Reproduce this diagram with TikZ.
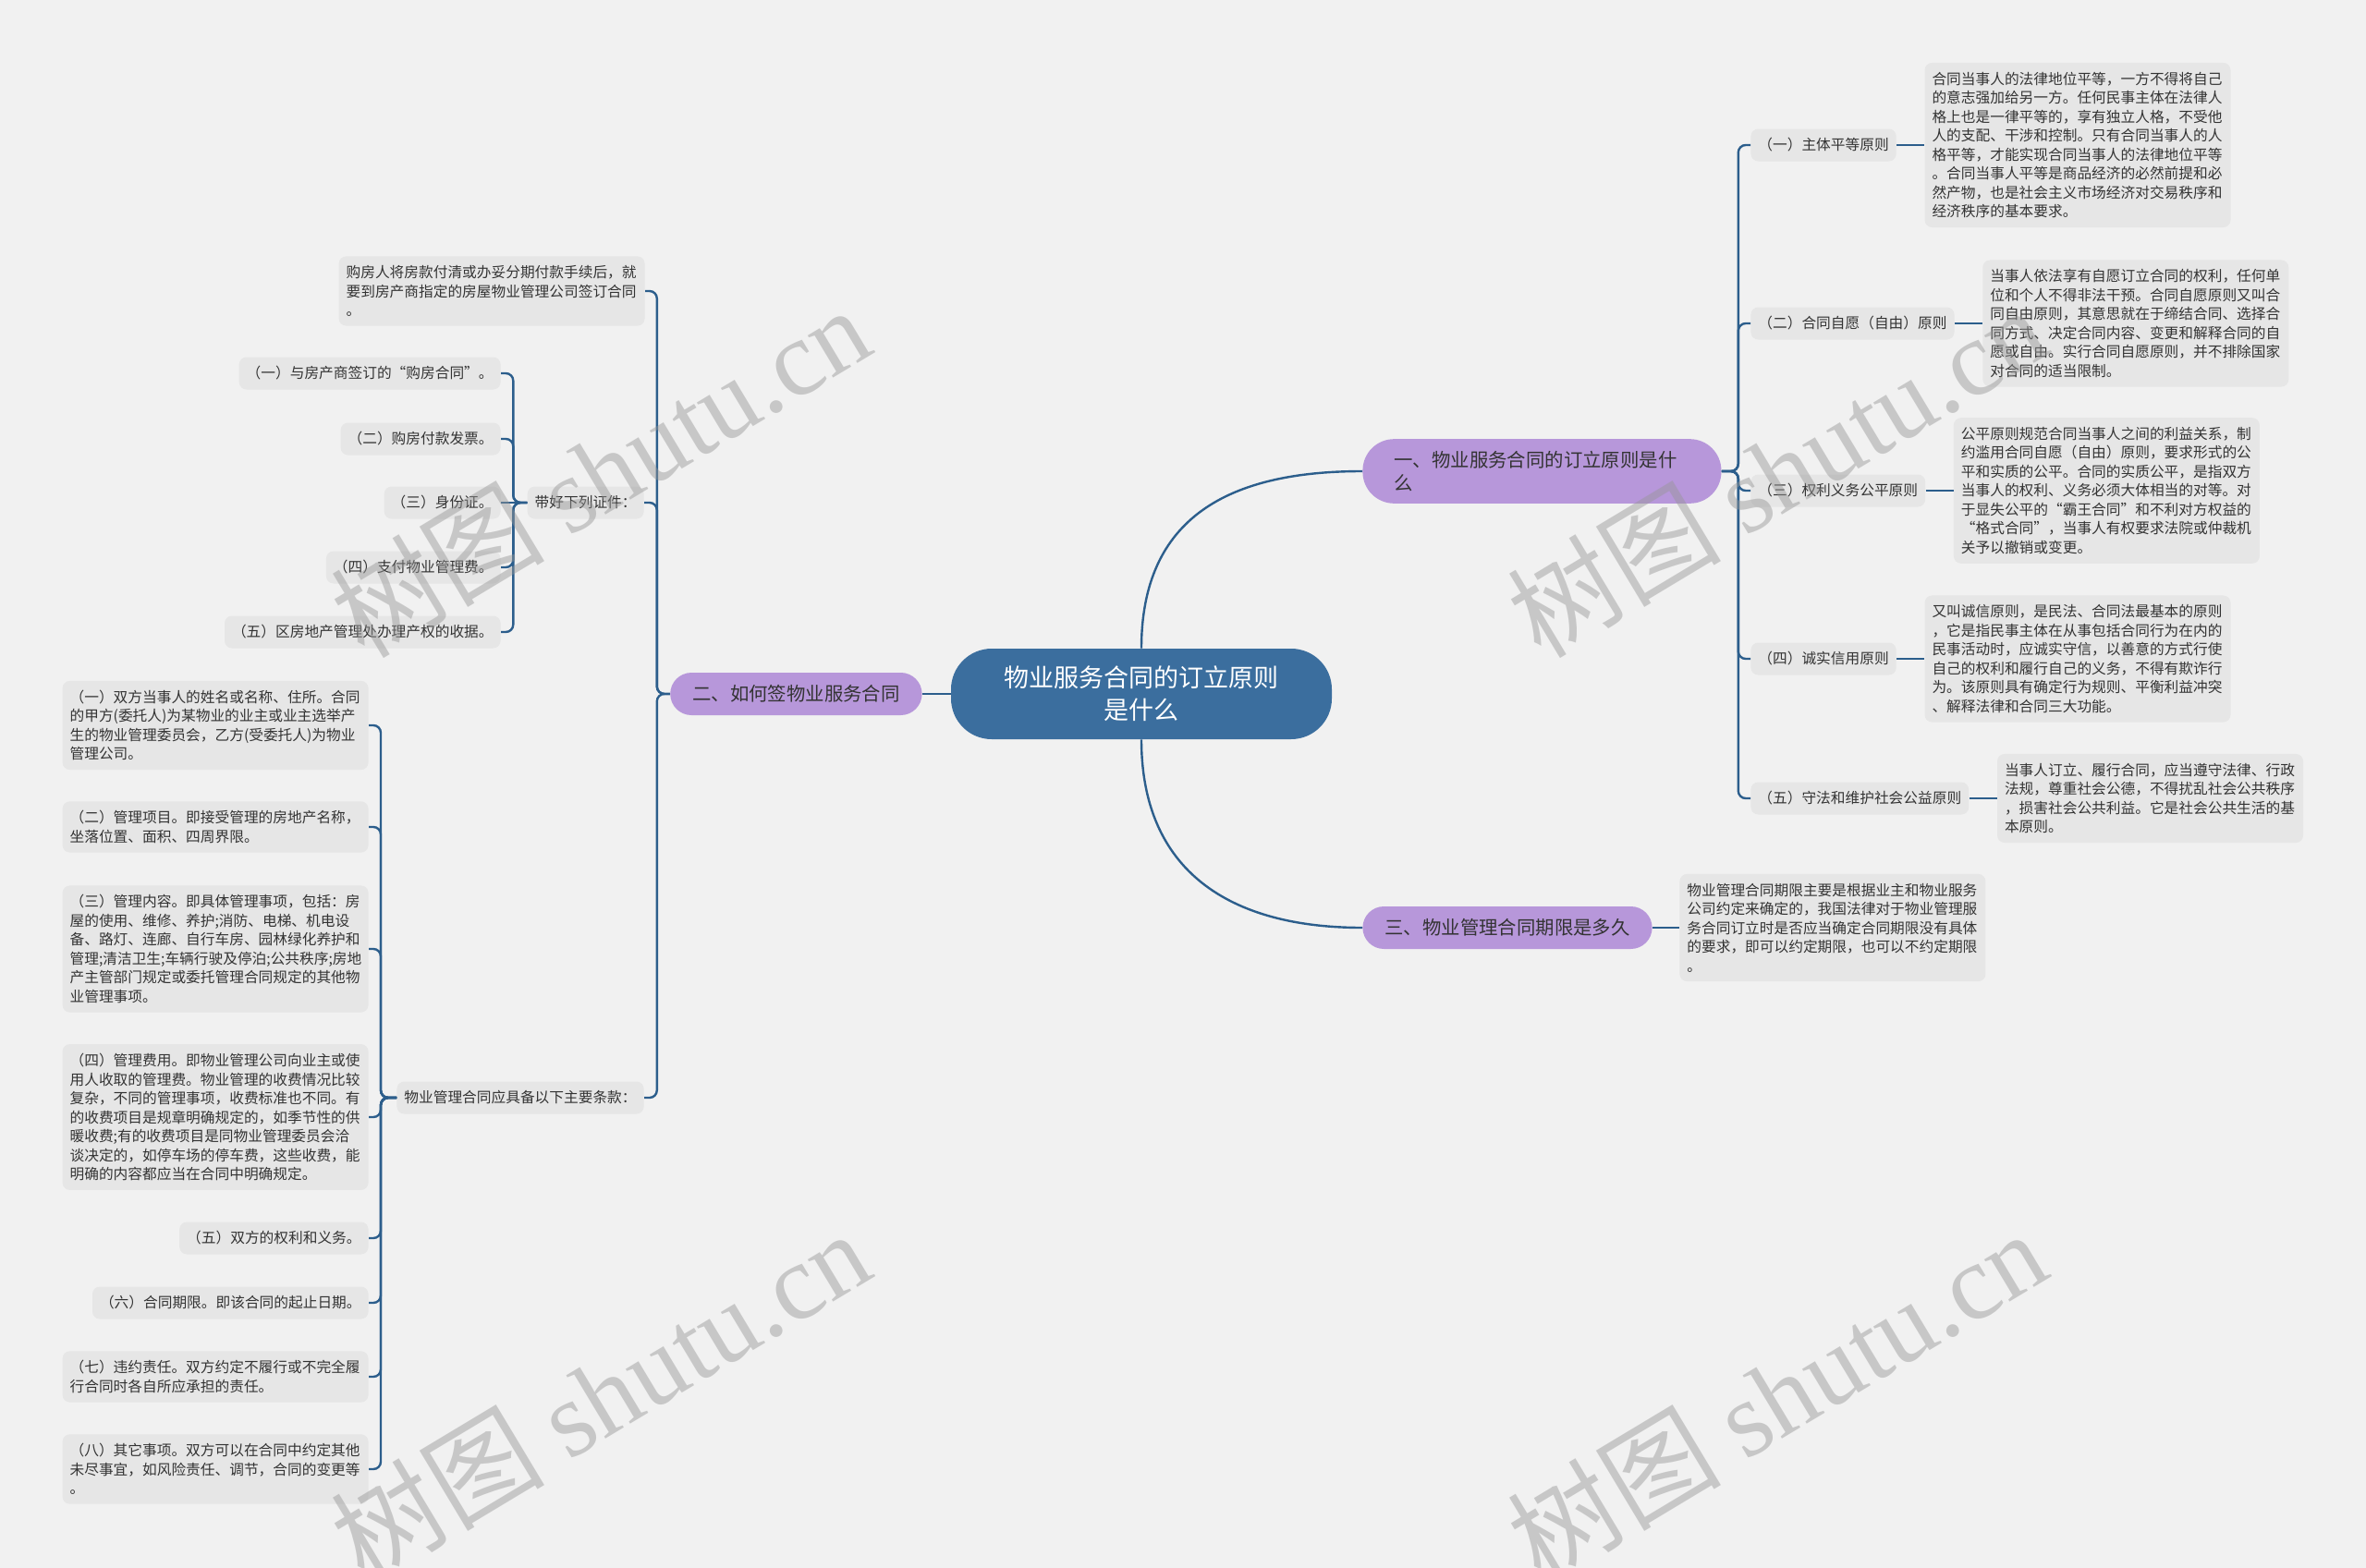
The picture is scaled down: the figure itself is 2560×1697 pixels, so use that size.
\documentclass[tikz,border=0pt]{standalone}
\usepackage{fontspec}
\setmainfont{Noto Sans CJK SC}
\newfontfamily\wmfont{Liberation Serif}
\usepackage{xcolor}
\usepackage{tikz}
\usetikzlibrary{positioning}
\definecolor{mybg}{RGB}{241,241,241}
\definecolor{myblue}{RGB}{59,110,158}
\definecolor{mylink}{RGB}{44,94,140}
\definecolor{mylilac}{RGB}{183,151,218}
\definecolor{mybox}{RGB}{230,230,230}
\definecolor{mytext}{RGB}{51,51,51}
\definecolor{mywater}{RGB}{150,150,150}
\tikzset{
  rootnode/.style={rectangle, fill=myblue, text=white, align=center,
    minimum width=206pt, minimum height=49pt, rounded corners=22pt,
    font=\fontsize{13.5}{17.5}\selectfont},
  branch/.style={rectangle, fill=mylilac, text=mytext, align=left,
    inner xsep=12pt, inner ysep=6.5pt, minimum height=23pt,
    rounded corners=11.5pt, font=\fontsize{10.2}{12.5}\selectfont},
  itembox/.style={rectangle, fill=mybox, text=mytext, align=left,
    inner xsep=4pt, inner ysep=5pt, minimum height=17.5pt,
    rounded corners=4pt, font=\fontsize{7.85}{10.25}\selectfont},
  textbox/.style={itembox, text width=157.5pt},
  link/.style={draw=mylink, line width=1.2pt},
  elbow/.style={link, rounded corners=4pt},
  watermark/.style={text=mywater, opacity=0.45, rotate=31,
    font=\fontsize{58}{58}\selectfont}
}
\begin{document}
\begin{tikzpicture}[x=0.5pt, y=-0.5pt]
  \useasboundingbox (0,0) rectangle (2560,1697);
  \fill[mybg] (0,0) rectangle (2560,1697);

  % Root and main branches
  \node[rootnode] (root) at (1235,751) {物业服务合同的订立原则\\是什么};
  \node[branch, anchor=west, text width=160pt, inner xsep=17pt, rounded corners=17pt]
    (br1) at (1474,510) {一、物业服务合同的订立原则是什\\么};
  \node[branch, anchor=east] (br2) at (998,751) {二、如何签物业服务合同};
  \node[branch, anchor=west] (br3) at (1474,1004) {三、物业管理合同期限是多久};

  % Principles (right)
  \node[itembox, anchor=west] (pr1) at (1894,157) {（一）主体平等原则};
  \node[itembox, anchor=west] (pr2) at (1894,350) {（二）合同自愿（自由）原则};
  \node[itembox, anchor=west] (pr3) at (1894,531) {（三）权利义务公平原则};
  \node[itembox, anchor=west] (pr4) at (1894,713) {（四）诚实信用原则};
  \node[itembox, anchor=west] (pr5) at (1894,864) {（五）守法和维护社会公益原则};

  \node[textbox, right=15pt of pr1] (pt1) {合同当事人的法律地位平等，一方不得将自己\\的意志强加给另一方。任何民事主体在法律人\\格上也是一律平等的，享有独立人格，不受他\\人的支配、干涉和控制。只有合同当事人的人\\格平等，才能实现合同当事人的法律地位平等\\。合同当事人平等是商品经济的必然前提和必\\然产物，也是社会主义市场经济对交易秩序和\\经济秩序的基本要求。};
  \node[textbox, right=15pt of pr2] (pt2) {当事人依法享有自愿订立合同的权利，任何单\\位和个人不得非法干预。合同自愿原则又叫合\\同自由原则，其意思就在于缔结合同、选择合\\同方式、决定合同内容、变更和解释合同的自\\愿或自由。实行合同自愿原则，并不排除国家\\对合同的适当限制。};
  \node[textbox, right=15pt of pr3] (pt3) {公平原则规范合同当事人之间的利益关系，制\\约滥用合同自愿（自由）原则，要求形式的公\\平和实质的公平。合同的实质公平，是指双方\\当事人的权利、义务必须大体相当的对等。对\\于显失公平的“霸王合同”和不利对方权益的\\“格式合同”，当事人有权要求法院或仲裁机\\关予以撤销或变更。};
  \node[textbox, right=15pt of pr4] (pt4) {又叫诚信原则，是民法、合同法最基本的原则\\，它是指民事主体在从事包括合同行为在内的\\民事活动时，应诚实守信，以善意的方式行使\\自己的权利和履行自己的义务，不得有欺诈行\\为。该原则具有确定行为规则、平衡利益冲突\\、解释法律和合同三大功能。};
  \node[textbox, right=15pt of pr5] (pt5) {当事人订立、履行合同，应当遵守法律、行政\\法规，尊重社会公德，不得扰乱社会公共秩序\\，损害社会公共利益。它是社会公共生活的基\\本原则。};

  % Term (right, lower)
  \node[textbox, right=14.5pt of br3] (term) {物业管理合同期限主要是根据业主和物业服务\\公司约定来确定的，我国法律对于物业管理服\\务合同订立时是否应当确定合同期限没有具体\\的要求，即可以约定期限，也可以不约定期限\\。};

  % Signing (left)
  \node[textbox, anchor=east] (buy) at (698,315) {购房人将房款付清或办妥分期付款手续后，就\\要到房产商指定的房屋物业管理公司签订合同\\。};
  \node[itembox, anchor=east] (docs) at (697,544) {带好下列证件：};
  \node[itembox, anchor=east] (terms) at (697,1188) {物业管理合同应具备以下主要条款：};

  \node[itembox, anchor=east] (doc1) at (542,404) {（一）与房产商签订的“购房合同”。};
  \node[itembox, anchor=east] (doc2) at (542,475) {（二）购房付款发票。};
  \node[itembox, anchor=east] (doc3) at (542,544) {（三）身份证。};
  \node[itembox, anchor=east] (doc4) at (542,614) {（四）支付物业管理费。};
  \node[itembox, anchor=east] (doc5) at (542,684) {（五）区房地产管理处办理产权的收据。};

  \node[textbox, anchor=east] (cl1) at (399,785) {（一）双方当事人的姓名或名称、住所。合同\\的甲方(委托人)为某物业的业主或业主选举产\\生的物业管理委员会，乙方(受委托人)为物业\\管理公司。};
  \node[textbox, anchor=east] (cl2) at (399,895) {（二）管理项目。即接受管理的房地产名称，\\坐落位置、面积、四周界限。};
  \node[textbox, anchor=east] (cl3) at (399,1027) {（三）管理内容。即具体管理事项，包括：房\\屋的使用、维修、养护;消防、电梯、机电设\\备、路灯、连廊、自行车房、园林绿化养护和\\管理;清洁卫生;车辆行驶及停泊;公共秩序;房地\\产主管部门规定或委托管理合同规定的其他物\\业管理事项。};
  \node[textbox, anchor=east] (cl4) at (399,1209) {（四）管理费用。即物业管理公司向业主或使\\用人收取的管理费。物业管理的收费情况比较\\复杂，不同的管理事项，收费标准也不同。有\\的收费项目是规章明确规定的，如季节性的供\\暖收费;有的收费项目是同物业管理委员会洽\\谈决定的，如停车场的停车费，这些收费，能\\明确的内容都应当在合同中明确规定。};
  \node[itembox, anchor=east] (cl5) at (399,1340) {（五）双方的权利和义务。};
  \node[itembox, anchor=east] (cl6) at (399,1410) {（六）合同期限。即该合同的起止日期。};
  \node[textbox, anchor=east] (cl7) at (399,1490) {（七）违约责任。双方约定不履行或不完全履\\行合同时各自所应承担的责任。};
  \node[textbox, anchor=east] (cl8) at (399,1590) {（八）其它事项。双方可以在合同中约定其他\\未尽事宜，如风险责任、调节，合同的变更等\\。};

  % Links from root
  \draw[link] (root.north) .. controls +(0,-142) and +(-144,0) .. (br1.west);
  \draw[link] (root.south) .. controls +(0,142) and +(-144,0) .. (br3.west);
  \draw[link] (root.west) -- (br2.east);

  % Right side
  \foreach \i in {1,...,5} {
    \draw[elbow] (br1.east) -- ++(18,0) |- (pr\i.west);
    \draw[link] (pr\i.east) -- (pt\i.west);
  }
  \draw[link] (br3.east) -- (term.west);

  % Left side
  \foreach \n in {buy,docs,terms}
    \draw[elbow] (br2.west) -- ++(-14,0) |- (\n.east);
  \foreach \n in {doc1,doc2,doc4,doc5}
    \draw[elbow] (docs.west) -- ++(-15,0) |- (\n.east);
  \draw[link] (docs.west) -- (doc3.east);
  \foreach \i in {1,...,8}
    \draw[elbow] (terms.west) -- ++(-17,0) |- (cl\i.east);

  % Watermarks
  \node[watermark] (wm1) at (649,510) {树图 {\wmfont shutu.cn}};
  \node[watermark] (wm2) at (1922,510) {树图 {\wmfont shutu.cn}};
  \node[watermark] (wm3) at (649,1510) {树图 {\wmfont shutu.cn}};
  \node[watermark] (wm4) at (1922,1510) {树图 {\wmfont shutu.cn}};
\end{tikzpicture}
\end{document}
